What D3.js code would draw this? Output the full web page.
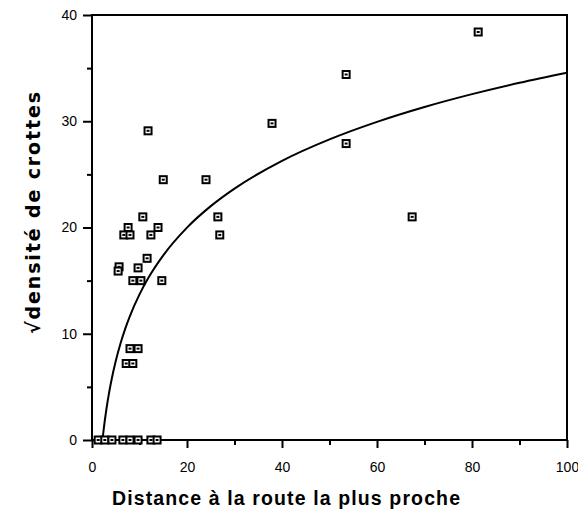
<!DOCTYPE html>
<html>
<head>
<meta charset="utf-8">
<script src="https://cdn.jsdelivr.net/npm/d3@7"></script>
<style>
  body { margin: 0; background: #fff; }
  svg { display: block; }
  .tick text { font-family: "Liberation Sans", Arial, sans-serif; font-size: 14px; fill: #000; }
</style>
</head>
<body>
<svg id="chart" width="578" height="518"></svg>
<script>
// distance a la route (x) et racine de la densite de crottes (y)
const distance = [81.3, 53.5, 53.5, 37.9, 67.4, 24.0, 26.5, 26.9, 11.8, 15.0, 10.7,
                  7.6, 6.7, 8.0, 13.9, 12.4, 11.6, 5.7, 5.5, 9.7, 8.6, 10.3, 14.7,
                  8.0, 9.7, 7.2, 8.6,
                  1.3, 2.7, 4.2, 6.5, 8.0, 9.7, 12.4, 13.7];
const racineDensite = [38.4, 34.4, 27.9, 29.8, 21.0, 24.5, 21.0, 19.3, 29.1, 24.5, 21.0,
                       20.0, 19.3, 19.3, 20.0, 19.3, 17.1, 16.3, 15.9, 16.2, 15.0, 15.0, 15.0,
                       8.6, 8.6, 7.2, 7.2,
                       0, 0, 0, 0, 0, 0, 0, 0];

// courbe d'ajustement
const courbeX = [2.2, 2.5, 3, 3.5, 4, 5, 6, 7, 8, 10, 12, 15, 20, 25, 30, 40, 50, 60, 70, 80, 90, 100];
const courbeY = [0, 1.15, 2.8, 4.2, 5.41, 7.43, 9.08, 10.48, 11.69, 13.71, 15.36, 17.38, 19.99,
                 22.01, 23.66, 26.27, 28.29, 29.94, 31.34, 32.55, 33.62, 34.57];

const xTicks = [0, 20, 40, 60, 80, 100];
const xMinor = [10, 30, 50, 70, 90];
const yTicks = [0, 10, 20, 30, 40];
const yMinor = [5, 15, 25, 35];

const svg = d3.select("#chart");
const margin = {left: 92, top: 15, right: 567, bottom: 440};

const x = d3.scaleLinear().domain([0, 100]).range([margin.left, margin.right]);
const y = d3.scaleLinear().domain([0, 40]).range([margin.bottom, margin.top]);

// minor ticks
svg.append("g")
    .attr("transform", `translate(0,${margin.bottom})`)
    .call(d3.axisBottom(x).tickValues(xMinor).tickSize(5).tickFormat(""))
    .call(g => g.select(".domain").remove())
    .selectAll("line").attr("stroke-width", 2);

svg.append("g")
    .attr("transform", `translate(${margin.left},0)`)
    .call(d3.axisLeft(y).tickValues(yMinor).tickSize(5).tickFormat(""))
    .call(g => g.select(".domain").remove())
    .selectAll("line").attr("stroke-width", 2);

// major ticks
const xAxis = svg.append("g")
    .attr("transform", `translate(0,${margin.bottom})`)
    .call(d3.axisBottom(x).tickValues(xTicks).tickSize(8).tickPadding(14))
    .call(g => g.select(".domain").remove());
xAxis.selectAll("line").attr("stroke-width", 2);

const yAxis = svg.append("g")
    .attr("transform", `translate(${margin.left},0)`)
    .call(d3.axisLeft(y).tickValues(yTicks).tickSize(9).tickPadding(6))
    .call(g => g.select(".domain").remove());
yAxis.selectAll("line").attr("stroke-width", 2);

// cadre
svg.append("rect")
    .attr("x", margin.left)
    .attr("y", margin.top)
    .attr("width", margin.right - margin.left)
    .attr("height", margin.bottom - margin.top)
    .attr("fill", "none")
    .attr("stroke", "#000")
    .attr("stroke-width", 2);

// courbe
const line = d3.line()
    .x(d => x(d[0]))
    .y(d => y(d[1]))
    .curve(d3.curveMonotoneX);

svg.append("path")
    .datum(d3.zip(courbeX, courbeY))
    .attr("d", line)
    .attr("fill", "none")
    .attr("stroke", "#000")
    .attr("stroke-width", 2);

// points
const pts = svg.append("g")
    .selectAll("g")
    .data(d3.zip(distance, racineDensite))
    .enter().append("g")
      .attr("transform", d => `translate(${x(d[0])},${y(d[1])})`);

pts.append("rect")
    .attr("x", -3.5).attr("y", -3.5)
    .attr("width", 7).attr("height", 7)
    .attr("fill", "#fff")
    .attr("stroke", "#000")
    .attr("stroke-width", 2);

pts.append("rect")
    .attr("x", -1.5).attr("y", -1)
    .attr("width", 3).attr("height", 2)
    .attr("fill", "#000");

// titres
svg.append("text")
    .attr("x", 112)
    .attr("y", 505)
    .attr("font-family", "Liberation Sans, Arial, sans-serif")
    .attr("font-weight", "bold")
    .attr("font-size", 19.5)
    .attr("textLength", 348)
    .text("Distance à la route la plus proche");

svg.append("text")
    .attr("transform", "translate(40,213) rotate(-90)")
    .attr("text-anchor", "middle")
    .attr("font-family", "DejaVu Sans, sans-serif")
    .attr("font-weight", "bold")
    .attr("font-size", 19)
    .attr("textLength", 242)
    .text("√densité de crottes");
</script>
</body>
</html>
